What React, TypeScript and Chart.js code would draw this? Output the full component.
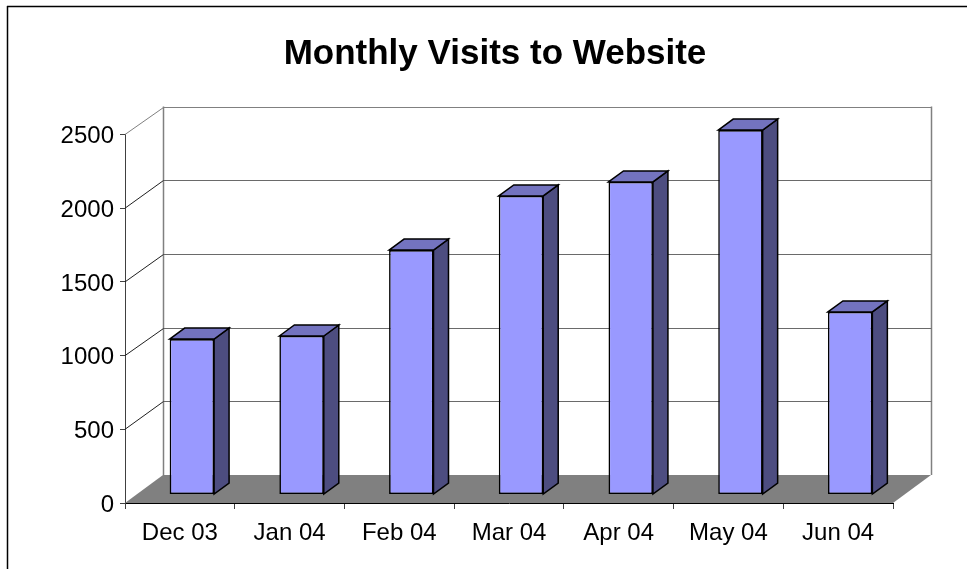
import React, { useEffect, useRef } from "react";
import { Chart, registerables } from "chart.js";

Chart.register(...registerables);

const categories = ["Dec 03", "Jan 04", "Feb 04", "Mar 04", "Apr 04", "May 04", "Jun 04"];
const visits = [1055, 1076, 1659, 2026, 2121, 2473, 1239];
const yTicks = [0, 500, 1000, 1500, 2000, 2500];
const chartTitle = "Monthly Visits to Website";

const WALL_DX = 38;
const WALL_DY = -28;
const BAR_SHIFT_X = 12;
const BAR_SHIFT_Y = -8.4;
const BAR_DX = 15;
const BAR_DY = -11;

function poly(ctx: CanvasRenderingContext2D, pts: number[][], fill: string | null, stroke: string | null, lw = 1) {
  ctx.beginPath();
  pts.forEach((p, i) => (i ? ctx.lineTo(p[0], p[1]) : ctx.moveTo(p[0], p[1])));
  ctx.closePath();
  if (fill) {
    ctx.fillStyle = fill;
    ctx.fill();
  }
  if (stroke) {
    ctx.strokeStyle = stroke;
    ctx.lineWidth = lw;
    ctx.lineJoin = "miter";
    ctx.stroke();
  }
}

function line(ctx: CanvasRenderingContext2D, x1: number, y1: number, x2: number, y2: number, color: string, lw = 1) {
  ctx.beginPath();
  ctx.moveTo(x1, y1);
  ctx.lineTo(x2, y2);
  ctx.strokeStyle = color;
  ctx.lineWidth = lw;
  ctx.stroke();
}

const threeD = {
  id: "threeD",
  afterLayout(chart: any) {
    if (chart.titleBlock) {
      chart.titleBlock.left = 23;
      chart.titleBlock.right = chart.width;
    }
  },
  beforeDraw(chart: any) {
    const ctx = chart.ctx as CanvasRenderingContext2D;
    ctx.save();
    ctx.fillStyle = "#ffffff";
    ctx.fillRect(0, 0, chart.width, chart.height);
    line(ctx, 7.5, 6, 7.5, chart.height, "#000000", 1.5);
    line(ctx, 7, 6.5, chart.width, 6.5, "#000000", 1.5);
    ctx.restore();
  },
  beforeDatasetsDraw(chart: any) {
    const ctx = chart.ctx as CanvasRenderingContext2D;
    const { left, right } = chart.chartArea;
    const y = chart.scales.y;
    const y0 = y.getPixelForValue(0);
    const yMax = y.getPixelForValue(yTicks[yTicks.length - 1]);
    ctx.save();
    poly(
      ctx,
      [
        [left, y0],
        [left + WALL_DX, y0 + WALL_DY],
        [right + WALL_DX, y0 + WALL_DY],
        [right, y0],
      ],
      "#808080",
      null
    );
    const bl = left + WALL_DX + 0.5;
    const br = right + WALL_DX + 0.5;
    line(ctx, bl, yMax + WALL_DY, bl, y0 + WALL_DY, "#808080", 1.5);
    line(ctx, br, yMax + WALL_DY, br, y0 + WALL_DY, "#808080", 1.5);
    yTicks.slice(1).forEach((v, i) => {
      const py = Math.round(y.getPixelForValue(v) + WALL_DY) + 0.5;
      line(ctx, bl, py, br, py, i === yTicks.length - 2 ? "#808080" : "#6a6a6a", 1.2);
      line(ctx, left, y.getPixelForValue(v), bl, py, i === yTicks.length - 2 ? "#808080" : "#202020", 1);
    });
    ctx.restore();
  },
  beforeDatasetDraw(chart: any, args: any) {
    const ctx = chart.ctx as CanvasRenderingContext2D;
    ctx.save();
    ctx.translate(BAR_SHIFT_X, BAR_SHIFT_Y);
    args.meta.data.forEach((el: any) => {
      const l = el.x - el.width / 2;
      const r = el.x + el.width / 2;
      poly(
        ctx,
        [
          [r, el.y],
          [r + BAR_DX, el.y + BAR_DY],
          [r + BAR_DX, el.base + BAR_DY],
          [r, el.base],
        ],
        "#4D4D80",
        "#000000",
        1.5
      );
      poly(
        ctx,
        [
          [l, el.y],
          [l + BAR_DX, el.y + BAR_DY],
          [r + BAR_DX, el.y + BAR_DY],
          [r, el.y],
        ],
        "#7373BF",
        "#000000",
        1.5
      );
    });
  },
  afterDatasetDraw(chart: any) {
    chart.ctx.restore();
  },
};

export default function App() {
  const ref = useRef<HTMLCanvasElement>(null);
  useEffect(() => {
    document.body.style.margin = "0";
    const chart = new Chart(ref.current as HTMLCanvasElement, {
      type: "bar",
      data: {
        labels: categories,
        datasets: [
          {
            label: "Visits",
            data: visits,
            backgroundColor: "#9999FF",
            borderColor: "#000000",
            borderWidth: 1.6,
            borderSkipped: false,
            barPercentage: 0.405,
            categoryPercentage: 1,
            clip: false,
          },
        ],
      },
      options: {
        responsive: false,
        animation: false,
        layout: { padding: { left: 0, top: 0, right: 74, bottom: 0 } },
        plugins: {
          legend: { display: false },
          tooltip: { enabled: false },
          title: {
            display: true,
            text: chartTitle,
            color: "#000000",
            font: { family: "Liberation Sans", size: 35, weight: "bold", lineHeight: 1.2 },
            padding: { top: 33, bottom: 59.5 },
          },
        },
        scales: {
          x: {
            afterFit(scale: any) {
              scale.height = 66;
            },
            grid: {
              offset: true,
              drawOnChartArea: false,
              drawTicks: true,
              tickLength: 6,
              color: "#404040",
            },
            border: { color: "#000000", width: 1 },
            ticks: {
              color: "#000000",
              font: { family: "Liberation Sans", size: 24 },
              padding: 10,
              maxRotation: 0,
              autoSkip: false,
            },
          },
          y: {
            min: 0,
            max: 2500,
            afterFit(scale: any) {
              scale.width = 125;
            },
            afterBuildTicks(scale: any) {
              scale.ticks = yTicks.map((value) => ({ value }));
            },
            grid: { drawOnChartArea: false, drawTicks: true, tickLength: 5, color: "#404040" },
            border: { color: "#404040", width: 1 },
            ticks: {
              color: "#000000",
              font: { family: "Liberation Sans", size: 24 },
              padding: 6,
              labelOffset: 2,
              callback: (value: any) => String(value),
            },
          },
        },
      },
      plugins: [threeD],
    } as any);
    return () => chart.destroy();
  }, []);
  return <canvas ref={ref} width={967} height={569} style={{ display: "block" }} />;
}
